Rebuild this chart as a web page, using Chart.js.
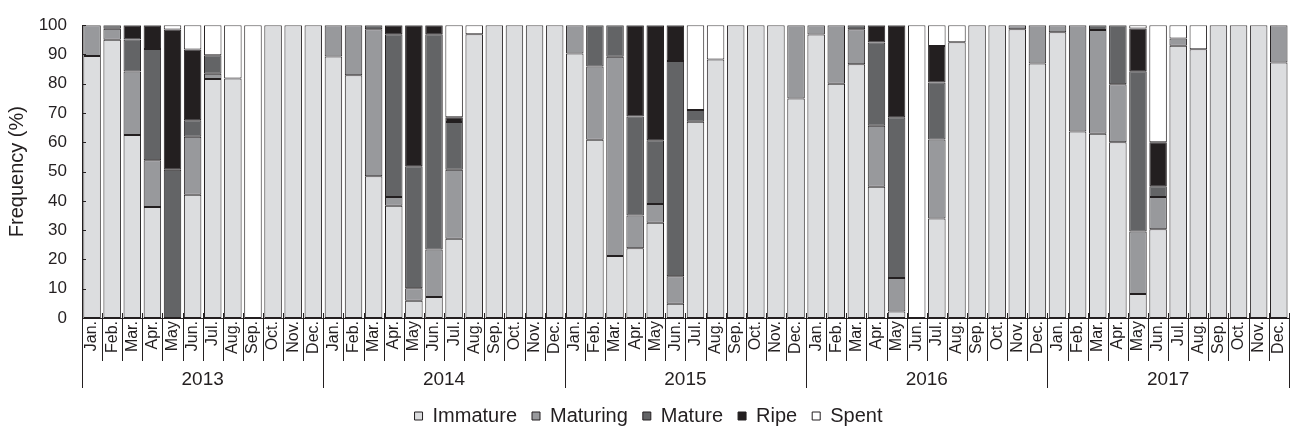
<!DOCTYPE html>
<html>
<head>
<meta charset="utf-8">
<script src="https://cdn.jsdelivr.net/npm/chart.js@4/dist/chart.umd.min.js"></script>
<style>
    body { margin: 0; background: #ffffff; }
    #chart-wrap { width: 1301px; height: 436px; }
</style>
</head>
<body>
<div id="chart-wrap"><canvas id="maturity-chart" width="1301" height="436"></canvas></div>
<script>
/* data */

const monthNames = ["Jan.", "Feb.", "Mar.", "Apr.", "May", "Jun.", "Jul.", "Aug.", "Sep.", "Oct.", "Nov.", "Dec."];
const years = ["2013", "2014", "2015", "2016", "2017"];
const yTicks = [0, 10, 20, 30, 40, 50, 60, 70, 80, 90, 100];

// one value per month, 2013 Jan. -> 2017 Dec.
const immature = [
    89.5, 95, 62.5, 37.9, 0, 42.1, 81.6, 81.8, 0, 100, 100, 100,
    89.3, 82.9, 48.4, 38.3, 5.9, 7.2, 27.1, 96.9, 100, 100, 100, 100,
    90.3, 60.9, 21.2, 23.8, 32.5, 4.9, 67.0, 88.3, 100, 100, 100, 75,
    96.8, 80, 86.7, 44.8, 2.2, 0, 34.0, 94.2, 100, 100, 98.6, 86.9,
    97.6, 63.7, 62.9, 60.0, 8.2, 30.3, 93.0, 91.8, 100, 100, 100, 87.3
];
const maturing = [
    10.5, 3.8, 21.7, 16, 0, 19.8, 1.8, 0, 0, 0, 0, 0,
    10.7, 17.1, 50.2, 3.0, 4.3, 16.2, 23.5, 0, 0, 0, 0, 0,
    9.7, 25.0, 68.0, 11.2, 6.4, 9.4, 0, 0, 0, 0, 0, 25,
    3.2, 20, 11.9, 20.9, 11.5, 0, 27.0, 0, 0, 0, 1.4, 13.1,
    2.4, 36.3, 35.5, 19.8, 21.3, 11.0, 2.5, 0, 0, 0, 0, 12.7
];
const mature = [
    0, 1.2, 10.9, 38.0, 50.6, 5.6, 6.3, 0, 0, 0, 0, 0,
    0, 0, 1.4, 55.6, 41.6, 73.5, 16.3, 0, 0, 0, 0, 0,
    0, 14.1, 10.8, 33.8, 21.8, 73.5, 4.0, 0, 0, 0, 0, 0,
    0, 0, 1.4, 28.4, 54.9, 0, 19.4, 0, 0, 0, 0, 0,
    0, 0, 1.6, 20.2, 54.8, 3.7, 0, 0, 0, 0, 0, 0
];
const ripe = [
    0, 0, 4.9, 8.1, 47.9, 24.2, 0, 0, 0, 0, 0, 0,
    0, 0, 0, 3.1, 48.2, 3.1, 1.7, 0, 0, 0, 0, 0,
    0, 0, 0, 31.2, 39.3, 12.2, 0, 0, 0, 0, 0, 0,
    0, 0, 0, 5.9, 31.4, 0, 12.5, 0, 0, 0, 0, 0,
    0, 0, 0, 0, 14.6, 15.0, 0, 0, 0, 0, 0, 0
];
const spent = [
    0, 0, 0, 0, 1.5, 8.3, 10.3, 18.2, 100, 0, 0, 0,
    0, 0, 0, 0, 0, 0, 31.4, 3.1, 0, 0, 0, 0,
    0, 0, 0, 0, 0, 0, 29.0, 11.7, 0, 0, 0, 0,
    0, 0, 0, 0, 0, 100, 7.1, 5.8, 0, 0, 0, 0,
    0, 0, 0, 0, 1.1, 40.0, 4.5, 8.2, 0, 0, 0, 0
];

const fontFamily = "'Liberation Sans', Arial, sans-serif";
const inkColor = "#231f20";

// month labels repeated for every year
const labels = [];
years.forEach(() => monthNames.forEach(m => labels.push(m)));

function makeDataset(label, values, color) {
    return {
        label: label,
        // empty segments would otherwise show up as a thick border line
        data: values.map(v => v === 0 ? null : v),
        backgroundColor: color,
        borderColor: inkColor,
        borderWidth: 1,
        borderSkipped: false,
        barPercentage: 0.87,
        categoryPercentage: 1
    };
}

// separators under the axis, year row and small inner ticks
const yearRowPlugin = {
    id: "yearRow",
    afterDraw(chart) {
        const ctx = chart.ctx;
        const area = chart.chartArea;
        const x = chart.scales.x;
        const y = chart.scales.y;
        const half = (x.getPixelForValue(1) - x.getPixelForValue(0)) / 2;

        ctx.save();
        ctx.strokeStyle = inkColor;
        ctx.lineWidth = 1;
        for (let i = 0; i <= labels.length; i++) {
            const px = Math.round(i < labels.length ? x.getPixelForValue(i) - half : x.getPixelForValue(i - 1) + half) + 0.5;
            const len = i % 12 === 0 ? 70 : 43;
            ctx.beginPath();
            ctx.moveTo(px, area.bottom - 5);
            ctx.lineTo(px, area.bottom + len);
            ctx.stroke();
        }
        yTicks.forEach(v => {
            const py = Math.round(y.getPixelForValue(v)) + 0.5;
            ctx.beginPath();
            ctx.moveTo(area.left, py);
            ctx.lineTo(area.left + 4, py);
            ctx.stroke();
        });

        ctx.fillStyle = inkColor;
        ctx.font = "19px " + fontFamily;
        ctx.textAlign = "center";
        ctx.textBaseline = "middle";
        years.forEach((yr, k) => {
            const cx = (x.getPixelForValue(k * 12) + x.getPixelForValue(k * 12 + 11)) / 2;
            ctx.fillText(yr, cx, area.bottom + 62);
        });
        ctx.restore();
    }
};

function drawMaturityChart() {
    const canvas = document.getElementById("maturity-chart");

    const data = {
        labels: labels,
        datasets: [
            makeDataset("Immature", immature, "#dcdddf"),
            makeDataset("Maturing", maturing, "#98999c"),
            makeDataset("Mature", mature, "#636466"),
            makeDataset("Ripe", ripe, "#231f20"),
            makeDataset("Spent", spent, "#ffffff")
        ]
    };

    const config = {
        type: "bar",
        data: data,
        plugins: [yearRowPlugin],
        options: {
            responsive: false,
            animation: false,
            layout: { padding: { top: 14, right: 4, left: 0, bottom: 0 } },
            plugins: {
                legend: {
                    position: "bottom",
                    labels: {
                        boxWidth: 8,
                        boxHeight: 8,
                        padding: 15,
                        color: inkColor,
                        font: { family: fontFamily, size: 20 }
                    }
                },
                tooltip: { enabled: false }
            },
            scales: {
                x: {
                    stacked: true,
                    grid: { display: false, drawTicks: false },
                    border: { display: true, color: inkColor, width: 1 },
                    ticks: {
                        autoSkip: false,
                        minRotation: 90,
                        maxRotation: 90,
                        padding: 3,
                        color: inkColor,
                        font: { family: fontFamily, size: 16 }
                    },
                    afterFit: scale => { scale.height = 73; }
                },
                y: {
                    stacked: true,
                    min: 0,
                    max: 100,
                    grid: { display: false, drawTicks: false },
                    border: { display: true, color: inkColor, width: 1 },
                    ticks: {
                        stepSize: 10,
                        padding: 15,
                        color: inkColor,
                        font: { family: fontFamily, size: 17 }
                    },
                    title: {
                        display: true,
                        text: "Frequency (%)",
                        color: inkColor,
                        padding: { top: 5, bottom: 0 },
                        font: { family: fontFamily, size: 20 }
                    },
                    afterFit: scale => { scale.width = 82; }
                }
            }
        }
    };

    const ctx = canvas.getContext("2d");
    const maturityChart = new Chart(ctx, config);
}

drawMaturityChart();
</script>
</body>
</html>
